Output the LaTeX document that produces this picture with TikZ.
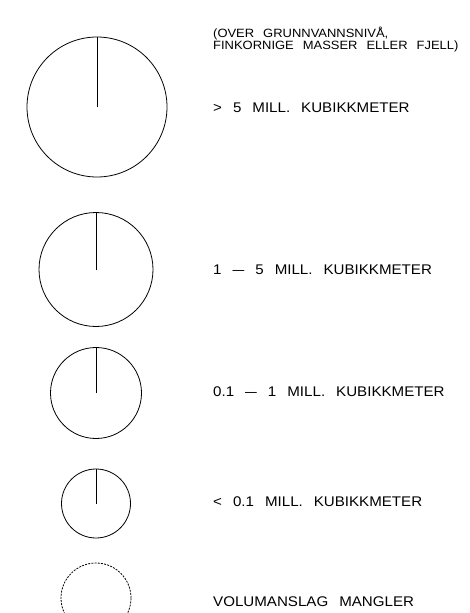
\documentclass[tikz,border=0pt]{standalone}
\usepackage{fontspec}
\setmainfont{Liberation Sans}
\newfontfamily\widefam[FakeStretch=1.08]{Liberation Sans}
\newcommand\lblfont{\widefam\fontsize{14}{16}\selectfont\spaceskip=11pt\relax}
\newcommand\hdrfont{\widefam\fontsize{12}{11}\selectfont\spaceskip=9pt\relax}
\newcommand\ldash{\scalebox{1.4}[1]{–}}
\begin{document}
\begin{tikzpicture}[x=1pt,y=-1pt,
  ring/.style={circle,draw=black,line width=0.8pt,inner sep=0pt},
  dashring/.style={ring,dash pattern=on 2pt off 1.2pt},
  radius/.style={draw=black,line width=0.8pt},
  lbl/.style={anchor=base west,inner sep=0pt,font=\lblfont},
  hdr/.style={anchor=base west,inner sep=0pt,font=\hdrfont}]
\useasboundingbox (0,0) rectangle (469,613);
\clip (0,0) rectangle (469,613);
\fill[white] (0,0) rectangle (469,613);
% circles
\node[ring,minimum size=140pt] (c1) at (97,107) {};
\node[ring,minimum size=114pt] (c2) at (96,269.5) {};
\node[ring,minimum size=91pt] (c3) at (96,393) {};
\node[ring,minimum size=69pt] (c4) at (96,503.5) {};
\node[dashring,minimum size=70pt] (c5) at (96,598) {};
\draw[radius] (c1.center) -- (c1.north);
\draw[radius] (c2.center) -- (c2.north);
\draw[radius] (c3.center) -- (c3.north);
\draw[radius] (c4.center) -- (c4.north);
% header
\node[hdr] (h1) at (213,37.5) {(OVER GRUNNVANNSNIVÅ,};
\node[hdr] (h2) at (213,49.5) {FINKORNIGE MASSER ELLER FJELL)};
% labels
\node[lbl] (t1) at (213,112) {> 5 MILL. KUBIKKMETER};
\node[lbl] (t2) at (213,274) {1 \ldash{} 5 MILL. KUBIKKMETER};
\node[lbl] (t3) at (213,396) {0.1 \ldash{} 1 MILL. KUBIKKMETER};
\node[lbl] (t4) at (213,506) {< 0.1 MILL. KUBIKKMETER};
\node[lbl] (t5) at (213,606) {VOLUMANSLAG MANGLER};
\end{tikzpicture}
\end{document}
